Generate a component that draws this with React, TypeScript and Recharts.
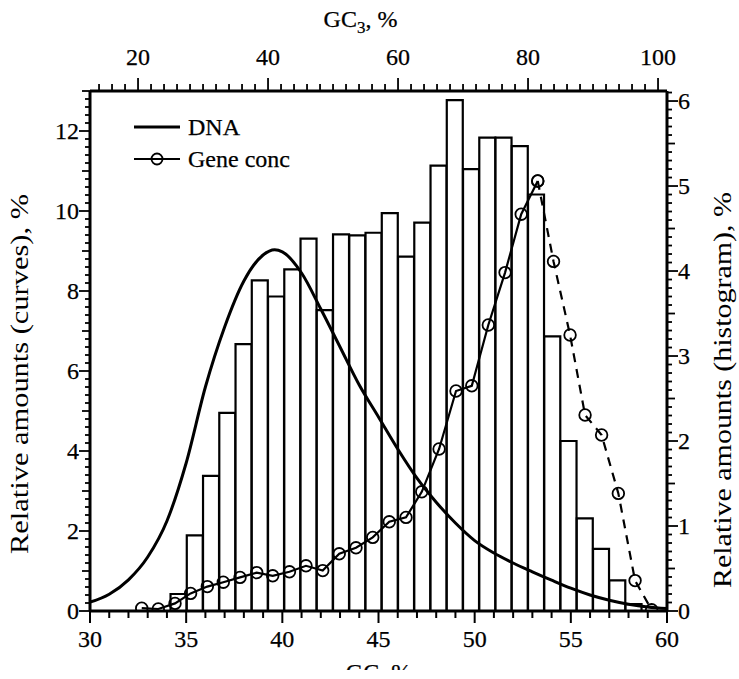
import React from "react"
import { ComposedChart, Bar, Line, XAxis, YAxis, Legend, Label } from "recharts"

const FONT = "'Liberation Serif', 'Times New Roman', serif"
const FS = 24
const TITLE_FS = 25

// histogram: GC3 bin centres (2.5 % wide) and relative amounts (right axis, %)
const binGC3 = [
  26.25, 28.75, 31.25, 33.75, 36.25, 38.75, 41.25, 43.75, 46.25, 48.75,
  51.25, 53.75, 56.25, 58.75, 61.25, 63.75, 66.25, 68.75, 71.25, 73.75,
  76.25, 78.75, 81.25, 83.75, 86.25, 88.75, 91.25, 93.75, 96.25,
]
const histAmount = [
  0.2, 0.89, 1.59, 2.33, 3.14, 3.89, 3.7, 4.02, 4.38, 3.54,
  4.43, 4.42, 4.45, 4.68, 4.17, 4.57, 5.24, 6.01, 5.2, 5.57,
  5.57, 5.47, 4.9, 3.23, 2.0, 1.09, 0.73, 0.36, 0.08,
]

// DNA curve (left axis)
const dnaGC = [
  30, 31, 32, 33, 34, 35, 36, 37, 38, 39, 39.6, 40, 41, 42, 43, 44, 45,
  46, 47, 48, 49, 50, 51, 52, 53, 54, 55, 56, 57, 58, 59, 60,
]
const dnaAmount = [
  0.22, 0.42, 0.78, 1.35, 2.25, 3.7, 5.6, 7.1, 8.25, 8.9, 9.03, 8.98, 8.45,
  7.55, 6.6, 5.65, 4.85, 4.05, 3.32, 2.72, 2.2, 1.76, 1.45, 1.2, 0.98, 0.77,
  0.57, 0.4, 0.27, 0.17, 0.1, 0.06,
]

// gene concentration (left axis); dashed from the maximum on
const geneGC = [
  32.69, 33.55, 34.42, 35.23, 36.1, 36.93, 37.8, 38.67, 39.5, 40.37,
  41.23, 42.1, 42.96, 43.83, 44.7, 45.56, 46.43, 47.25, 48.15, 49.03,
  49.85, 50.71, 51.58, 52.42, 53.28, 54.1, 54.96, 55.74, 56.6, 57.47,
  58.34, 59.2,
]
const geneConc = [
  0.07, 0.05, 0.19, 0.44, 0.61, 0.72, 0.84, 0.96, 0.88, 0.98,
  1.13, 1.01, 1.43, 1.58, 1.84, 2.23, 2.34, 2.98, 4.05, 5.5,
  5.63, 7.15, 8.46, 9.92, 10.75, 8.74, 6.9, 4.9, 4.4, 2.94,
  0.76, 0.03,
]
const dashFrom = 24

const bottomTicks = Array.from({ length: 31 }, (_, i) => 30 + i)
const topTicks = Array.from({ length: 44 }, (_, i) => 14 + i * 2)
const leftTicks = Array.from({ length: 66 }, (_, i) => Math.round(i * 2) / 10)
const rightTicks = Array.from({ length: 62 }, (_, i) => i / 10)

const histData = binGC3.map((gc3, i) => ({ gc3, amount: histAmount[i] }))
const dnaData = dnaGC.map((gc, i) => ({ gc, value: dnaAmount[i] }))
const geneData = geneGC.map((gc, i) => ({ gc, value: geneConc[i] }))
const geneSolid = geneData.slice(0, dashFrom + 1)
const geneDashed = geneData.slice(dashFrom)

const near = (v: number, step: number) => Math.abs(v / step - Math.round(v / step)) < 1e-6

const txt = { style: { fontFamily: FONT, fontSize: FS }, fill: "#000", stroke: "#000", strokeWidth: 0.25 }
const titleTxt = { style: { fontFamily: FONT, fontSize: TITLE_FS }, fill: "#000" }

const BottomTick = ({ x, y, payload }: any) => {
  const v = payload.value
  const major = near(v, 5)
  return (
    <g>
      <line x1={x} x2={x} y1={y} y2={y + (major ? 12 : 7)} stroke="#000" strokeWidth={2} />
      {major && <text x={x} y={y + 36} textAnchor="middle" {...txt}>{v}</text>}
    </g>
  )
}

const TopTick = ({ x, y, payload }: any) => {
  const v = payload.value
  const major = near(v, 20)
  return (
    <g>
      <line x1={x} x2={x} y1={y} y2={y - (major ? 13 : 7)} stroke="#000" strokeWidth={1.8} />
      {major && <text x={x} y={y - 26} textAnchor="middle" {...txt}>{v}</text>}
    </g>
  )
}

const LeftTick = ({ x, y, payload }: any) => {
  const v = payload.value
  const major = near(v, 2)
  const mid = !major && near(v, 1)
  return (
    <g>
      <line x1={x} x2={x - (major ? 11 : mid ? 8 : 5)} y1={y} y2={y} stroke="#000" strokeWidth={1.8} />
      {major && <text x={x - 11} y={y} dy="0.35em" textAnchor="end" {...txt}>{v}</text>}
    </g>
  )
}

const RightTick = ({ x, y, payload }: any) => {
  const v = payload.value
  const major = near(v, 1)
  const mid = !major && near(v, 0.5)
  return (
    <g>
      <line x1={x} x2={x + (major ? 11 : mid ? 8 : 5)} y1={y} y2={y} stroke="#000" strokeWidth={1.8} />
      {major && <text x={x + 11} y={y} dy="0.35em" textAnchor="start" {...txt}>{v}</text>}
    </g>
  )
}

const LegendBox = () => (
  <div style={{ fontFamily: FONT, fontSize: FS, color: "#000", lineHeight: "32px", WebkitTextStroke: "0.25px #000" }}>
    <div style={{ display: "flex", alignItems: "center", height: 32 }}>
      <svg width={46} height={14} style={{ marginRight: 8 }}>
        <line x1={0} x2={46} y1={7} y2={7} stroke="#000" strokeWidth={2.8} />
      </svg>
      DNA
    </div>
    <div style={{ display: "flex", alignItems: "center", height: 32 }}>
      <svg width={46} height={14} style={{ marginRight: 8 }}>
        <line x1={0} x2={46} y1={7} y2={7} stroke="#000" strokeWidth={2.2} />
        <circle cx={23} cy={7} r={5.5} stroke="#000" strokeWidth={1.8} fill="none" />
      </svg>
      Gene conc
    </div>
  </div>
)

const dotStyle = { r: 5.8, stroke: "#000", strokeWidth: 1.8, fill: "none", strokeDasharray: "none" }

const axisLine = { stroke: "#000", strokeWidth: 3 }

const VerticalTitle = ({ cx, cy, length, children }: any) => (
  <text
    x={cx}
    y={cy}
    dy="0.35em"
    textAnchor="middle"
    textLength={length}
    lengthAdjust="spacingAndGlyphs"
    transform={`rotate(-90 ${cx} ${cy})`}
    {...titleTxt}
  >
    {children}
  </text>
)

export default function App() {
  return (
    <div style={{ width: 739, height: 679, overflow: "hidden", position: "relative", background: "#fff" }}>
      <style>{"body{margin:0}"}</style>
      <svg width={0} height={0} style={{ position: "absolute" }}>
        <defs>
          <clipPath id="cut-bottom">
            <rect x={0} y={0} width={739} height={670} />
          </clipPath>
        </defs>
      </svg>
      <ComposedChart
        width={739}
        height={679}
        data={histData}
        margin={{ top: 0, right: 0, bottom: 0, left: 0 }}
        barCategoryGap={0}
        barGap={0}
      >
        <XAxis
          xAxisId="bottom"
          dataKey="gc"
          type="number"
          domain={[30, 60]}
          allowDataOverflow
          ticks={bottomTicks}
          interval={0}
          height={68}
          tickSize={0}
          tickMargin={0}
          tickLine={false}
          tick={<BottomTick />}
          axisLine={axisLine}
        >
          <Label
            content={({ viewBox }: any) => (
              <text
                x={viewBox.x + viewBox.width / 2}
                y={viewBox.y + 69}
                textAnchor="middle"
                clipPath="url(#cut-bottom)"
                {...txt}
              >
                GC, %
              </text>
            )}
          />
        </XAxis>
        <XAxis
          xAxisId="top"
          orientation="top"
          dataKey="gc3"
          type="number"
          domain={[12.61, 101.38]}
          allowDataOverflow
          ticks={topTicks}
          interval={0}
          height={91}
          tickSize={0}
          tickMargin={0}
          tickLine={false}
          tick={<TopTick />}
          axisLine={axisLine}
        >
          <Label
            content={({ viewBox }: any) => (
              <text x={viewBox.x + viewBox.width / 2 - 18} y={viewBox.y + 27} textAnchor="middle" {...txt}>
                GC<tspan dy={6} style={{ fontSize: 17 }}>3</tspan>
                <tspan dy={-6}>, %</tspan>
              </text>
            )}
          />
        </XAxis>
        <YAxis
          yAxisId="left"
          type="number"
          domain={[0, 13]}
          allowDataOverflow
          ticks={leftTicks}
          interval={0}
          width={90}
          tickSize={0}
          tickMargin={0}
          tickLine={false}
          tick={<LeftTick />}
          axisLine={axisLine}
        >
          <Label
            content={({ viewBox }: any) => (
              <VerticalTitle cx={viewBox.x + 19} cy={374} length={360}>
                Relative amounts (curves), %
              </VerticalTitle>
            )}
          />
        </YAxis>
        <YAxis
          yAxisId="right"
          orientation="right"
          type="number"
          domain={[0, 6.118]}
          allowDataOverflow
          ticks={rightTicks}
          interval={0}
          width={72}
          tickSize={0}
          tickMargin={0}
          tickLine={false}
          tick={<RightTick />}
          axisLine={axisLine}
        >
          <Label
            content={({ viewBox }: any) => (
              <VerticalTitle cx={viewBox.x + 55} cy={390} length={396}>
                Relative amounts (histogram), %
              </VerticalTitle>
            )}
          />
        </YAxis>
        <Legend
          layout="vertical"
          align="center"
          verticalAlign="middle"
          wrapperStyle={{ top: 111, left: 134, width: "auto" }}
          content={() => <LegendBox />}
        />
        <Bar
          xAxisId="top"
          yAxisId="right"
          dataKey="amount"
          fill="#fff"
          stroke="#000"
          strokeWidth={2.2}
          isAnimationActive={false}
        />
        <Line
          xAxisId="bottom"
          yAxisId="left"
          data={dnaData}
          dataKey="value"
          type="monotone"
          stroke="#000"
          strokeWidth={3}
          dot={false}
          isAnimationActive={false}
        />
        <Line
          xAxisId="bottom"
          yAxisId="left"
          data={geneSolid}
          dataKey="value"
          type="linear"
          stroke="#000"
          strokeWidth={2.2}
          dot={dotStyle}
          isAnimationActive={false}
        />
        <Line
          xAxisId="bottom"
          yAxisId="left"
          data={geneDashed}
          dataKey="value"
          type="linear"
          stroke="#000"
          strokeWidth={2.2}
          strokeDasharray="9 7"
          dot={dotStyle}
          isAnimationActive={false}
        />
      </ComposedChart>
    </div>
  )
}
